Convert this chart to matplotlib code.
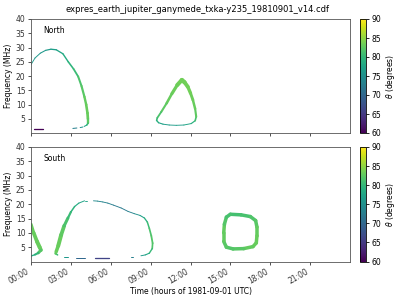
import numpy as np
import matplotlib
matplotlib.use("Agg")
import matplotlib.pyplot as plt
from matplotlib.collections import LineCollection
from matplotlib import cm, colors

# ---------------- data ----------------
title = "expres_earth_jupiter_ganymede_txka-y235_19810901_v14.cdf"
xticks_h = [0, 3, 6, 9, 12, 15, 18, 21]
xtick_labels = ["00:00", "03:00", "06:00", "09:00", "12:00", "15:00", "18:00", "21:00"]
yticks = [5, 10, 15, 20, 25, 30, 35, 40]
cbar_ticks = [60, 65, 70, 75, 80, 85, 90]

# North hemisphere
n1_t = [0.0, 0.3, 0.7, 1.1, 1.5, 1.9, 2.4, 2.8, 3.2, 3.55, 3.8, 4.02, 4.15, 4.25, 4.28, 4.28, 4.2, 4.0]
n1_f = [24.0, 26.3, 28.0, 29.0, 29.4, 29.2, 27.8, 25.0, 22.5, 19.8, 16.5, 12.7, 10.0, 7.0, 5.0, 3.4, 2.8, 2.3]
n1_th = [76, 76, 76, 76, 76.5, 77, 78, 79, 80, 81, 82, 82.5, 83, 83, 83, 82, 79, 77]

n1b_t = [3.15, 3.45]
n1b_f = [1.6, 1.75]
n1b_th = [73, 73]

n1c_t = [3.7, 3.9]
n1c_f = [1.9, 2.1]
n1c_th = [75, 75]

n_bar_t = [0.22, 0.9]
n_bar_f = [1.4, 1.4]
n_bar_th = [60, 60]

n2_t = [11.35, 11.0, 10.6, 10.2, 9.8, 9.5, 9.45, 9.6, 9.93, 10.4, 10.93, 11.5, 12.05, 12.35, 12.43, 12.35, 12.18, 12.0, 11.8, 11.55, 11.35]
n2_f = [18.6, 16.8, 13.8, 10.4, 7.4, 5.3, 4.4, 3.6, 3.1, 2.8, 2.7, 2.8, 3.3, 4.3, 5.7, 8.5, 11.6, 14.0, 16.2, 17.8, 18.6]
n2_th = [83.5, 83.5, 83, 83, 82, 81, 80, 78, 77, 76.5, 76.5, 77, 78, 80, 82, 83, 83, 83.5, 83.5, 83.5, 83.5]

# South hemisphere
s1_t = [0.0, 0.2, 0.45, 0.65, 0.75, 0.55, 0.3, 0.0]
s1_f = [13.0, 10.0, 7.0, 5.0, 4.0, 3.0, 2.4, 1.9]
s1_th = [83, 83, 83, 83, 83, 81, 79, 78]

s2_t = [2.0, 1.85, 1.9, 2.05, 2.27, 2.5, 2.78, 3.0, 3.28, 3.6, 4.03, 4.2]
s2_f = [2.3, 2.8, 3.5, 5.5, 9.3, 12.5, 15.2, 17.3, 19.2, 20.4, 21.2, 21.2]
s2_th = [79, 82, 83, 83, 83, 82, 81, 80, 79, 78, 77, 77]

s3_t = [4.7, 5.0, 5.4, 5.78, 6.2, 6.78, 7.3, 7.78, 8.2, 8.53, 8.75, 8.9, 9.05, 9.15, 9.12, 8.9, 8.6, 8.27]
s3_f = [21.2, 21.1, 20.8, 20.4, 19.7, 18.7, 17.5, 16.7, 16.1, 15.2, 13.8, 11.6, 9.0, 6.4, 4.5, 2.9, 2.3, 2.0]
s3_th = [74.5, 74, 73.5, 73, 72.5, 72, 72.5, 74, 76, 78, 80, 81, 82, 82, 81.5, 79, 77, 76]

s3b_t = [7.55, 7.7]
s3b_f = [1.7, 1.7]
s3b_th = [73, 73]

s_bar1_t = [2.45, 2.8]
s_bar1_f = [1.7, 1.7]
s_bar1_th = [76, 76]

s_bar2_t = [3.4, 4.05]
s_bar2_f = [1.3, 1.3]
s_bar2_th = [70, 70]

s_bar3_t = [4.78, 5.9]
s_bar3_f = [1.3, 1.3]
s_bar3_th = [66, 66]

s4_t = [15.0, 15.8, 16.5, 16.9, 17.0, 17.0, 16.95, 16.7, 16.0, 15.2, 14.7, 14.5, 14.5, 14.55, 14.7, 15.0]
s4_f = [16.5, 16.3, 15.7, 14.3, 12.0, 9.0, 6.5, 5.2, 4.5, 4.4, 5.0, 7.0, 10.0, 13.0, 15.5, 16.5]
s4_th = [81, 81, 81.5, 82, 82.5, 83, 83, 83, 82.5, 82, 82, 82.5, 83, 82.5, 81.5, 81]

# ---------------- styles ----------------
n1_w = [0.9, 0.9, 1.0, 1.1, 1.3, 1.3, 1.3, 1.5, 1.7, 1.9, 2.1, 2.3, 2.5, 2.7, 2.7, 2.0, 1.2, 0.9]
n2_w = [4.5, 3.6, 2.8, 2.3, 1.9, 1.7, 1.5, 1.2, 1.0, 0.9, 0.9, 0.9, 1.0, 1.4, 1.9, 2.3, 2.7, 3.1, 3.6, 4.1, 4.5]
s1_w = [3.0, 3.5, 4.0, 4.0, 3.5, 2.5, 1.7, 1.0]
s2_w = [1.0, 2.2, 3.0, 4.0, 4.0, 3.5, 2.6, 1.8, 1.3, 1.0, 0.9, 0.9]
s3_w = [0.9] * 9 + [1.2, 1.4, 1.6, 1.8, 1.8, 1.6, 1.2, 1.0, 0.9]
s4_w = [3.5] * 16

cmap = matplotlib.colormaps["viridis"]
norm = colors.Normalize(vmin=60, vmax=90)
FS = 5.5
PX = 0.72  # points per pixel at dpi=100


def draw(ax, t, f, th, w=None):
    t = np.asarray(t, float)
    f = np.asarray(f, float)
    th = np.asarray(th, float)
    if w is None:
        w = [1.0] * len(t)
    w = np.asarray(w, float)
    pts = np.column_stack([t, f]).reshape(-1, 1, 2)
    segs = np.concatenate([pts[:-1], pts[1:]], axis=1)
    lc = LineCollection(segs, colors=cmap(norm((th[:-1] + th[1:]) / 2)),
                        linewidths=(w[:-1] + w[1:]) / 2 * PX, capstyle="round",
                        joinstyle="round")
    ax.add_collection(lc)


fig = plt.figure(figsize=(4, 3), dpi=100)
ax1 = fig.add_axes([31 / 400, 1 - 133 / 300, 319 / 400, 114 / 300])
ax2 = fig.add_axes([31 / 400, 1 - 261.5 / 300, 319 / 400, 114.5 / 300])
cax1 = fig.add_axes([360 / 400, 1 - 133 / 300, 6 / 400, 114 / 300])
cax2 = fig.add_axes([360 / 400, 1 - 261.5 / 300, 6 / 400, 114.5 / 300])

draw(ax1, n1_t, n1_f, n1_th, n1_w)
draw(ax1, n1b_t, n1b_f, n1b_th)
draw(ax1, n1c_t, n1c_f, n1c_th)
draw(ax1, n_bar_t, n_bar_f, n_bar_th, [1.3, 1.3])
draw(ax1, n2_t, n2_f, n2_th, n2_w)

draw(ax2, s1_t, s1_f, s1_th, s1_w)
draw(ax2, s2_t, s2_f, s2_th, s2_w)
draw(ax2, s3_t, s3_f, s3_th, s3_w)
draw(ax2, s3b_t, s3b_f, s3b_th)
draw(ax2, s_bar1_t, s_bar1_f, s_bar1_th)
draw(ax2, s_bar2_t, s_bar2_f, s_bar2_th)
draw(ax2, s_bar3_t, s_bar3_f, s_bar3_th, [1.3, 1.3])
draw(ax2, s4_t, s4_f, s4_th, s4_w)

for ax, name in [(ax1, "North"), (ax2, "South")]:
    ax.set_xlim(0, 24)
    ax.set_ylim(0, 40)
    ax.set_xticks(xticks_h)
    ax.set_yticks(yticks)
    ax.tick_params(labelsize=FS, length=2.5, width=0.6, pad=1.5, colors="#333333")
    ax.set_ylabel("Frequency (MHz)", fontsize=FS, labelpad=2)
    ax.text(0.038, 0.9, name, transform=ax.transAxes, fontsize=FS, va="center")
    for s in ax.spines.values():
        s.set_linewidth(0.6)
        s.set_color("#555555")

ax1.set_xticklabels([])
ax2.set_xticklabels(xtick_labels, rotation=30, ha="right")
ax2.set_xlabel("Time (hours of 1981-09-01 UTC)", fontsize=FS, labelpad=1)

for cax in (cax1, cax2):
    sm = cm.ScalarMappable(norm=norm, cmap=cmap)
    cb = fig.colorbar(sm, cax=cax, ticks=cbar_ticks)
    cb.ax.tick_params(labelsize=FS, length=2.5, width=0.6, pad=1.5)
    cb.set_label(r"$\theta$ (degrees)", fontsize=FS, labelpad=2)
    cb.outline.set_linewidth(0.6)

fig.text(197 / 400, 1 - 10 / 300, title, fontsize=6, ha="center", va="center")

fig.savefig("out.png", dpi=100)
